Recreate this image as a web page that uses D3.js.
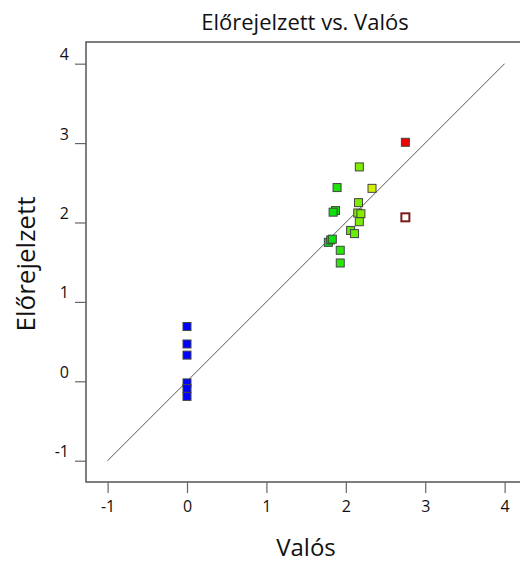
<!DOCTYPE html>
<html>
<head>
<meta charset="utf-8">
<script src="https://cdn.jsdelivr.net/npm/d3@7"></script>
<style>
  body { margin: 0; background: #fff; }
  svg { font-family: "Open Sans", "Noto Sans", sans-serif; }
</style>
</head>
<body>
<div id="chart-area"></div>
<script>
// actual values (x), predicted values (y)
const actual = [
  0, 0, 0, 0, 0, 0,
  2.17, 1.89, 2.33, 2.16, 1.87, 1.84, 2.15, 2.19, 2.17,
  2.06, 2.11, 1.78, 1.81, 1.83, 1.93, 1.93,
  2.75, 2.75
];
const predicted = [
  0.69, 0.47, 0.33, -0.02, -0.09, -0.19,
  2.70, 2.44, 2.43, 2.25, 2.15, 2.13, 2.12, 2.11, 2.01,
  1.90, 1.86, 1.75, 1.78, 1.79, 1.65, 1.49,
  3.01, 2.065
];
// last point is shown as open marker
const open = [false, false, false, false, false, false,
  false, false, false, false, false, false, false, false, false,
  false, false, false, false, false, false, false,
  false, true];
const tickValues = [-1, 0, 1, 2, 3, 4];

const margin = { top: 42, right: -4, bottom: 81, left: 86 };
const width = 520 - margin.left - margin.right,
  height = 563 - margin.top - margin.bottom;

const svg = d3.select("#chart-area")
  .append("svg")
  .attr("width", 520)
  .attr("height", 563);

const g = svg.append("g")
  .attr("transform", "translate(" + margin.left + "," + margin.top + ")");

const xScale = d3.scaleLinear().domain([-1.272, 4.244]).range([0, width]);
const yScale = d3.scaleLinear().domain([-1.268, 4.273]).range([height, 0]);

const color = d3.scaleLinear()
  .domain([0, 1.8, 2.2, 2.35, 2.75])
  .range(["#0000ff", "#00e010", "#88ee00", "#e0f000", "#ee0000"]);

const fmt = d => String(d);

// Frame
g.append("rect")
  .attr("width", width)
  .attr("height", height)
  .attr("fill", "none")
  .attr("stroke", "#555")
  .attr("stroke-width", 1.5);

// Axes
const xAxis = g.append("g")
  .attr("transform", "translate(0," + height + ")")
  .call(d3.axisBottom(xScale).tickValues(tickValues).tickFormat(fmt).tickSize(11).tickPadding(8));
const yAxis = g.append("g")
  .call(d3.axisLeft(yScale).tickValues(tickValues).tickFormat(fmt).tickSize(11).tickPadding(6));

[xAxis, yAxis].forEach(a => {
  a.select(".domain").remove();
  a.selectAll("line").attr("stroke", "#666").attr("stroke-width", 1.2);
  a.selectAll("text")
    .attr("fill", "#111")
    .attr("font-size", "16px")
    .attr("font-family", "'Open Sans', 'Noto Sans', sans-serif");
});
yAxis.selectAll("text").attr("dy", "-0.25em");

// Diagonal y = x
g.append("line")
  .attr("x1", xScale(-1)).attr("y1", yScale(-1))
  .attr("x2", xScale(4)).attr("y2", yScale(4))
  .attr("stroke", "#555")
  .attr("stroke-width", 1);

// Points
const size = 8;
g.selectAll("rect.pt")
  .data(actual.map((a, i) => ({ a: a, p: predicted[i], o: open[i] })))
  .enter()
  .append("rect")
  .attr("class", "pt")
  .attr("x", d => xScale(d.a) - size / 2)
  .attr("y", d => yScale(d.p) - size / 2)
  .attr("width", size)
  .attr("height", size)
  .attr("fill", d => d.o ? "#fff" : color(d.a))
  .attr("stroke", d => d.o ? "#7a1a1a" : "#444")
  .attr("stroke-width", d => d.o ? 2 : 1);

// Title
svg.append("text")
  .attr("x", 305)
  .attr("y", 30)
  .attr("text-anchor", "middle")
  .attr("font-size", "22px")
  .attr("fill", "#111")
  .text("Előrejelzett vs. Valós");

// X label
svg.append("text")
  .attr("x", 306)
  .attr("y", 556)
  .attr("text-anchor", "middle")
  .attr("font-size", "24px")
  .attr("fill", "#111")
  .text("Valós");

// Y label
svg.append("text")
  .attr("transform", "translate(35,264) rotate(-90)")
  .attr("text-anchor", "middle")
  .attr("font-size", "26px")
  .attr("fill", "#111")
  .text("Előrejelzett");
</script>
</body>
</html>
